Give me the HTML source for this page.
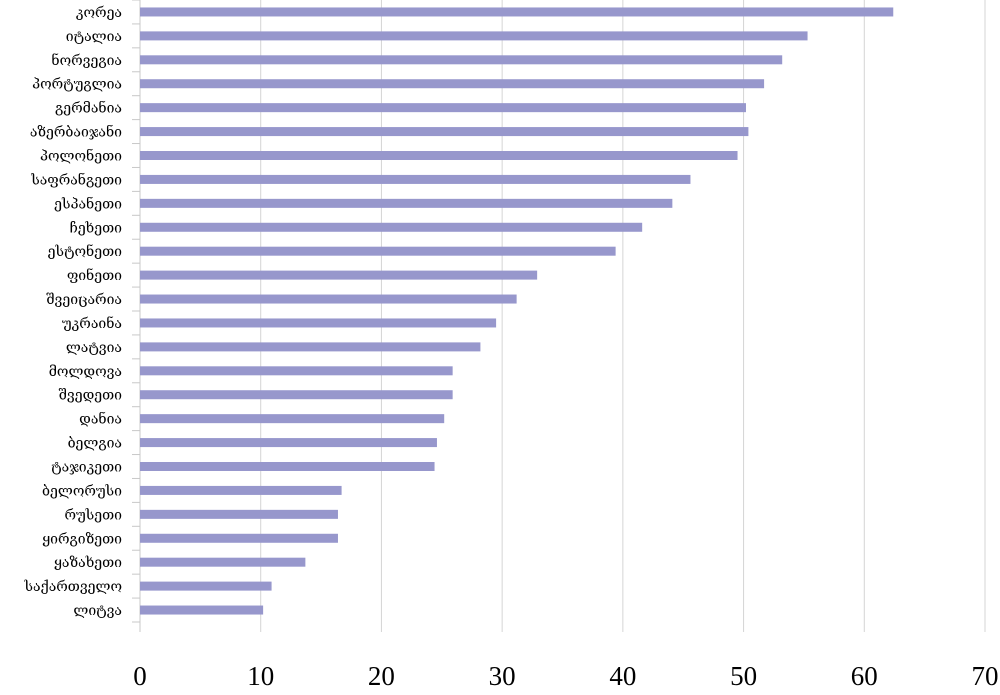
<!DOCTYPE html>
<html><head><meta charset="utf-8"><style>
html,body{margin:0;padding:0;background:#fff;width:1000px;height:695px;overflow:hidden}
svg{display:block}
</style></head><body>
<svg id="chart" width="1000" height="695"></svg>
<script>
const categories=["კორეა","იტალია","ნორვეგია","პორტუგლია","გერმანია","აზერბაიჯანი","პოლონეთი","საფრანგეთი","ესპანეთი","ჩეხეთი","ესტონეთი","ფინეთი","შვეიცარია","უკრაინა","ლატვია","მოლდოვა","შვედეთი","დანია","ბელგია","ტაჯიკეთი","ბელორუსი","რუსეთი","ყირგიზეთი","ყაზახეთი","საქართველო","ლიტვა"];
const values=[62.4,55.3,53.2,51.7,50.2,50.4,49.5,45.6,44.1,41.6,39.4,32.9,31.2,29.5,28.2,25.9,25.9,25.2,24.6,24.4,16.7,16.4,16.4,13.7,10.9,10.2];
const ticks=[0,10,20,30,40,50,60,70];
const NS="http://www.w3.org/2000/svg";
const svgEl=document.getElementById('chart');
const x0=140,x1=985,xmax=70,yTop=0,yBot=622;
const xs=v=>x0+(x1-x0)*v/xmax;
const band=(yBot-yTop)/categories.length;
const ys=i=>yTop+band*i;
function mk(t,a){const e=document.createElementNS(NS,t);for(const k in a)e.setAttribute(k,a[k]);svgEl.appendChild(e);return e;}
ticks.forEach(t=>{
  if(t>0){const g=mk('line',{x1:xs(t),x2:xs(t),y1:0,y2:632,stroke:'#d4d4d4','stroke-width':1});
  
  }
  const l=mk('text',{x:xs(t),y:685,'text-anchor':'middle','font-family':'Liberation Serif, serif','font-size':27,fill:'#000'});
  l.textContent=t;
  
  
});
const ax=mk('line',{x1:x0,x2:x0,y1:0,y2:632,stroke:'#c8c8c8','stroke-width':1});


for(let i=0;i<=categories.length;i++){
  const tk=mk('line',{x1:132,x2:x0,y1:ys(i),y2:ys(i),stroke:'#c8c8c8','stroke-width':1});
  
  
}
categories.forEach((c,i)=>{
  const cy=ys(i)+band/2;
  const b=mk('rect',{x:x0,y:cy-4.5,width:xs(values[i])-x0,height:9,fill:'#9797cc'});
  
  
  const t=mk('text',{x:122,y:cy+5,'text-anchor':'end','font-family':'Liberation Serif, DejaVu Serif, serif','font-size':14,fill:'#000'});
  t.textContent=c;
  
  
});
</script>
</body></html>
